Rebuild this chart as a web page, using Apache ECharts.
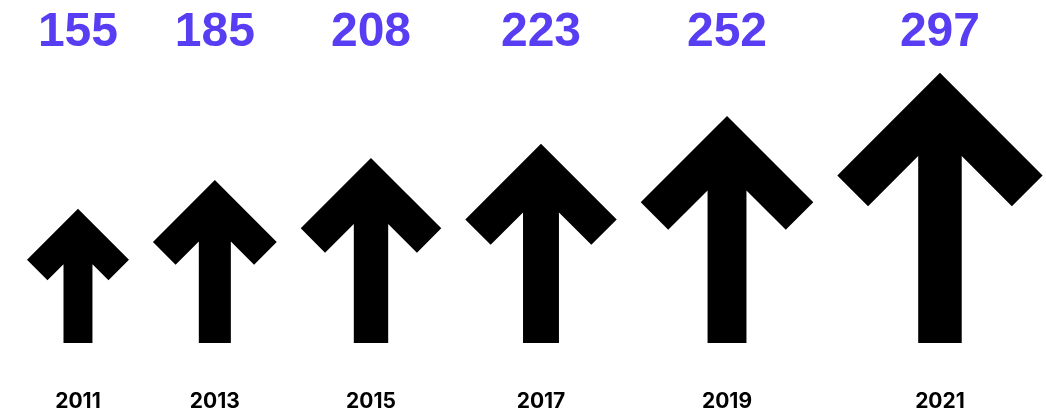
<!DOCTYPE html>
<html>
<head>
    <meta charset="UTF-8">
    <title>arrows</title>
    <script src="https://cdn.jsdelivr.net/npm/echarts@6/dist/echarts.min.js"></script>
    <style>
        *{margin:0;padding:0}
        html, body{ width:100%; height:100%; background:#fff; }
        #main{ width:1046px; height:413px; }
    </style>
</head>
<body>
    <div id="main"></div>
    <script type="text/javascript">
        var years = ['2011', '2013', '2015', '2017', '2019', '2021'];
        var values = [155, 185, 208, 223, 252, 297];

        var yMin = 15;          // arrows grow from this baseline value
        var yMax = 373;
        var ratio = 0.76;       // arrow width / height
        var gap = 24;           // px between neighbouring arrows
        var leftPad = 27;

        var myChart = echarts.init(document.getElementById('main'));

        function arrowPoints(x0, y0, w, h) {
            var t = 0.107 * h + 14.6;   // stroke thickness grows slower than the arrow
            var d = t / Math.SQRT2;
            var c = x0 + w / 2;
            var neck = y0 + Math.SQRT2 * t + t / 2;
            return [
                [c, y0],
                [x0 + w, y0 + w / 2],
                [x0 + w - d, y0 + w / 2 + d],
                [c + t / 2, neck],
                [c + t / 2, y0 + h],
                [c - t / 2, y0 + h],
                [c - t / 2, neck],
                [x0 + d, y0 + w / 2 + d],
                [x0, y0 + w / 2]
            ];
        }

        function renderItem(params, api) {
            var idx = params.dataIndex;
            var base = api.coord([0, yMin]);
            var left = base[0] + leftPad;
            for (var j = 0; j < idx; j++) {
                var hj = api.size([0, values[j] - yMin])[1];
                left += hj * ratio + gap;
            }
            var top = api.coord([0, api.value(1)]);
            var h = base[1] - top[1];
            var w = h * ratio;
            var cx = left + w / 2;
            return {
                type: 'group',
                children: [
                    {
                        type: 'polygon',
                        shape: { points: arrowPoints(left, top[1], w, h) },
                        style: { fill: '#000' }
                    },
                    {
                        type: 'text',
                        style: {
                            text: String(api.value(1)),
                            x: cx, y: 33,
                            align: 'center', verticalAlign: 'middle',
                            fill: '#583ef2',
                            fontSize: 48, fontWeight: 'bold',
                            fontFamily: 'Liberation Sans'
                        }
                    },
                    {
                        type: 'text',
                        style: {
                            text: years[idx],
                            x: cx, y: 402,
                            align: 'center', verticalAlign: 'middle',
                            fill: '#000',
                            fontSize: 21, fontWeight: 'bold',
                            fontFamily: 'Inter'
                        }
                    }
                ]
            };
        }

        option = {
            animation: false,
            grid: { left: 0, right: 0, top: 0, bottom: 70 },
            xAxis: { type: 'value', min: 0, max: 1046, show: false },
            yAxis: { type: 'value', min: yMin, max: yMax, show: false },
            series: [
                {
                    type: 'custom',
                    renderItem: renderItem,
                    encode: { x: 0, y: 1 },
                    data: values.map(function (v, i) { return [i, v]; })
                }
            ]
        };
        myChart.setOption(option);
    </script>
</body>
</html>
